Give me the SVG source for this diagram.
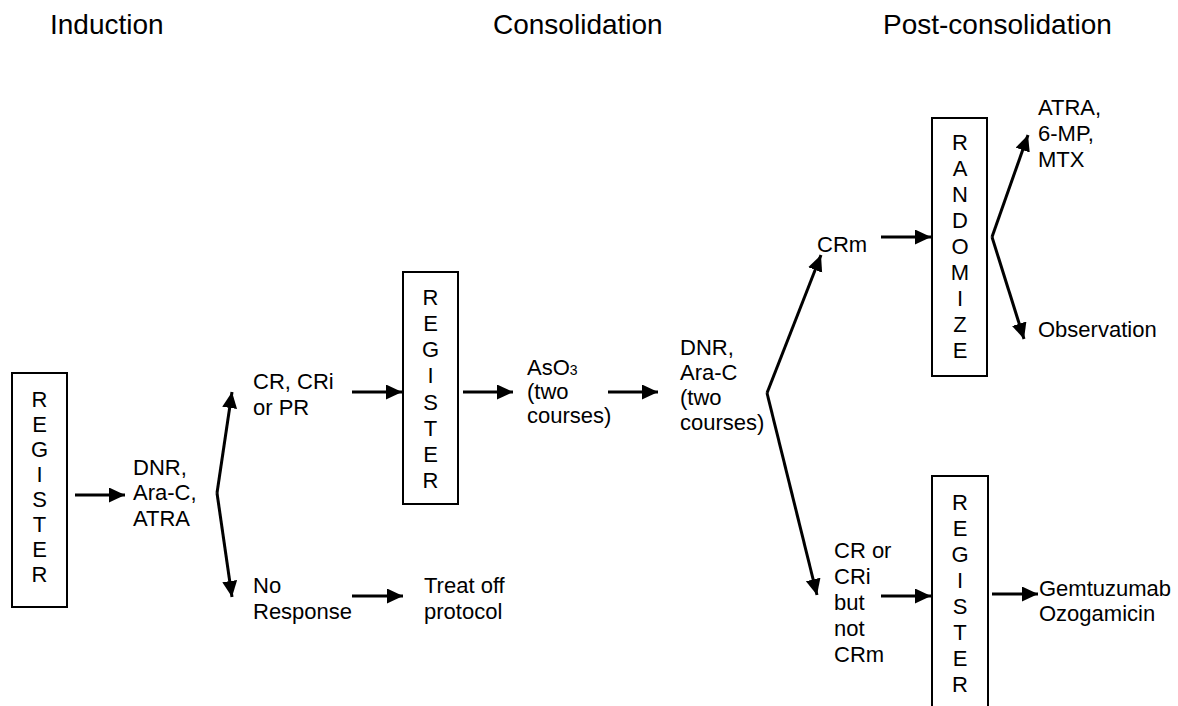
<svg xmlns="http://www.w3.org/2000/svg" width="1178" height="706" viewBox="0 0 1178 706">
<defs>
<marker id="ah" markerUnits="userSpaceOnUse" markerWidth="17" markerHeight="16" refX="16" refY="7.5" orient="auto">
<path d="M0,0 L16,7.5 L0,15 z" fill="#000"/>
</marker>
<style>
text{font-family:"Liberation Sans",Arial,sans-serif;font-size:22px;fill:#000}
.hd{font-size:28px}
.box{fill:#fff;stroke:#000;stroke-width:2}
.v{text-anchor:middle}
.c{fill:none;stroke:#000;stroke-width:3}
.a{marker-end:url(#ah)}
</style>
</defs>
<rect width="1178" height="706" fill="#fff"/>
<g id="headers">
<text class="hd" x="50" y="34">Induction</text>
<text class="hd" x="493" y="34">Consolidation</text>
<text class="hd" x="883" y="34">Post-consolidation</text>
</g>
<g id="register1">
<rect class="box" x="12" y="373" width="55" height="234"/>
<text class="v" x="39.5" y="407">R</text><text class="v" x="39.5" y="432">E</text><text class="v" x="39.5" y="457">G</text><text class="v" x="39.5" y="482">I</text><text class="v" x="39.5" y="507">S</text><text class="v" x="39.5" y="532">T</text><text class="v" x="39.5" y="557">E</text><text class="v" x="39.5" y="582">R</text>
</g>
<g id="induction-drugs">
<text x="133" y="475">DNR,</text><text x="133" y="500">Ara-C,</text><text x="133" y="526">ATRA</text>
</g>
<g id="cr-cri-pr">
<text x="253" y="389">CR, CRi</text><text x="253" y="415">or PR</text>
</g>
<g id="no-response">
<text x="253" y="593">No</text><text x="253" y="619">Response</text>
</g>
<g id="treat-off">
<text x="424" y="593">Treat off</text><text x="424" y="619">protocol</text>
</g>
<g id="register2">
<rect class="box" x="403" y="272" width="55" height="232"/>
<text class="v" x="430.5" y="305">R</text><text class="v" x="430.5" y="331">E</text><text class="v" x="430.5" y="357">G</text><text class="v" x="430.5" y="383">I</text><text class="v" x="430.5" y="410">S</text><text class="v" x="430.5" y="436">T</text><text class="v" x="430.5" y="462">E</text><text class="v" x="430.5" y="488">R</text>
</g>
<g id="aso3">
<text x="527" y="375">AsO<tspan font-size="14">3</tspan></text><text x="527" y="399">(two</text><text x="527" y="423">courses)</text>
</g>
<g id="dnr-arac">
<text x="680" y="355">DNR,</text><text x="680" y="380">Ara-C</text><text x="680" y="405">(two</text><text x="680" y="430">courses)</text>
</g>
<g id="crm">
<text x="817" y="252">CRm</text>
</g>
<g id="randomize">
<rect class="box" x="932" y="118" width="55" height="258"/>
<text class="v" x="960" y="150">R</text><text class="v" x="960" y="176">A</text><text class="v" x="960" y="202">N</text><text class="v" x="960" y="228">D</text><text class="v" x="960" y="254">O</text><text class="v" x="960" y="280">M</text><text class="v" x="960" y="306">I</text><text class="v" x="960" y="332">Z</text><text class="v" x="960" y="358">E</text>
</g>
<g id="atra-6mp-mtx">
<text x="1038" y="115">ATRA,</text><text x="1038" y="141">6-MP,</text><text x="1038" y="167">MTX</text>
</g>
<g id="observation">
<text x="1038" y="337">Observation</text>
</g>
<g id="cr-cri-not-crm">
<text x="834" y="558">CR or</text><text x="834" y="584">CRi</text><text x="834" y="610">but</text><text x="834" y="636">not</text><text x="834" y="662">CRm</text>
</g>
<g id="register3">
<rect class="box" x="932" y="476" width="56" height="240"/>
<text class="v" x="960" y="510">R</text><text class="v" x="960" y="536">E</text><text class="v" x="960" y="562">G</text><text class="v" x="960" y="588">I</text><text class="v" x="960" y="614">S</text><text class="v" x="960" y="640">T</text><text class="v" x="960" y="666">E</text><text class="v" x="960" y="692">R</text>
</g>
<g id="gemtuzumab">
<text x="1039" y="596">Gemtuzumab</text><text x="1039" y="621">Ozogamicin</text>
</g>
<g id="connectors">
<line class="c a" x1="75" y1="495" x2="125" y2="495"/>
<polyline class="c a" points="217,493 232,392"/>
<polyline class="c a" points="217,493 232,597"/>
<line class="c a" x1="352" y1="392" x2="402" y2="392"/>
<line class="c a" x1="463" y1="392" x2="513" y2="392"/>
<line class="c a" x1="352" y1="596" x2="403" y2="596"/>
<line class="c a" x1="608" y1="392" x2="658" y2="392"/>
<line class="c a" x1="767" y1="393" x2="821" y2="255"/>
<line class="c a" x1="767" y1="393" x2="817" y2="595"/>
<line class="c a" x1="881" y1="237" x2="931" y2="237"/>
<line class="c a" x1="992" y1="237" x2="1028" y2="135"/>
<line class="c a" x1="992" y1="237" x2="1024" y2="339"/>
<line class="c a" x1="881" y1="596" x2="931" y2="596"/>
<line class="c a" x1="992" y1="594" x2="1038" y2="594"/>
</g>
</svg>
